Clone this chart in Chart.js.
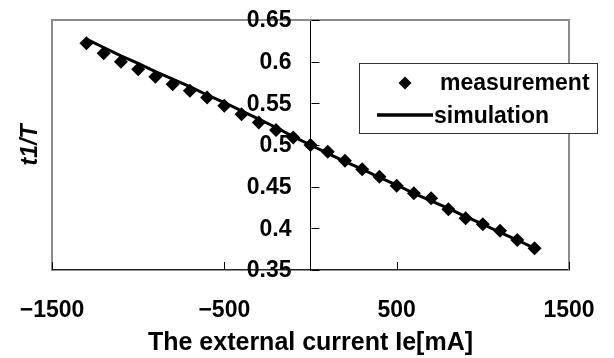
<!DOCTYPE html>
<html>
<head>
<meta charset="utf-8">
<script src="https://cdn.jsdelivr.net/npm/chart.js@4/dist/chart.umd.min.js"></script>
<style>
  body { margin: 0; background: #fff; }
  #wrap { width: 614px; height: 358px; position: relative; }
</style>
</head>
<body>
<div id="wrap"><canvas id="chart"></canvas></div>
<script>
const currents = [-1300, -1200, -1100, -1000, -900, -800, -700, -600, -500, -400, -300, -200, -100,
  0, 100, 200, 300, 400, 500, 600, 700, 800, 900, 1000, 1100, 1200, 1300];
const measured = [0.622, 0.610, 0.600, 0.591, 0.582, 0.573, 0.565, 0.557, 0.547, 0.537, 0.527, 0.518, 0.509,
  0.500, 0.492, 0.481, 0.471, 0.462, 0.451, 0.442, 0.436, 0.423, 0.412, 0.405, 0.397, 0.386, 0.376];
const simulated = [0.627, 0.617, 0.607, 0.598, 0.588, 0.579, 0.570, 0.560, 0.551, 0.541, 0.531, 0.521, 0.510,
  0.500, 0.490, 0.480, 0.471, 0.461, 0.452, 0.442, 0.433, 0.424, 0.414, 0.405, 0.395, 0.386, 0.376];
const xTickValues = [-1500, -500, 500, 1500];
const yTickValues = [0.35, 0.4, 0.45, 0.5, 0.55, 0.6, 0.65];
const seriesNames = ["measurement", "simulation"];

const FONT = "'Liberation Sans', Arial, sans-serif";

/* frame, inner tick marks, y labels next to the centred axis, legend box */
const decorations = {
  id: "decorations",
  beforeDatasetsDraw(chart) {
    const { ctx, chartArea: a } = chart;
    ctx.save();
    ctx.strokeStyle = "#8c8c8c";
    ctx.lineWidth = 2;
    ctx.beginPath();
    ctx.moveTo(a.left, a.bottom);
    ctx.lineTo(a.left, a.top);
    ctx.lineTo(a.right, a.top);
    ctx.lineTo(a.right, a.bottom);
    ctx.stroke();

    ctx.strokeStyle = "#000";
    ctx.lineWidth = 1;
    const xs = chart.scales.x, ys = chart.scales.y;
    const x0 = Math.round(xs.getPixelForValue(0)) + 0.5;
    xs.ticks.forEach(t => {
      const px = Math.round(xs.getPixelForValue(t.value)) + 0.5;
      ctx.beginPath(); ctx.moveTo(px, a.bottom); ctx.lineTo(px, a.bottom - 8); ctx.stroke();
    });
    ys.ticks.forEach(t => {
      const py = Math.round(ys.getPixelForValue(t.value)) + 0.5;
      ctx.beginPath(); ctx.moveTo(x0, py); ctx.lineTo(x0 + 8, py); ctx.stroke();
    });
    ctx.restore();
  },
  afterDraw(chart) {
    const { ctx, chartArea: a } = chart;
    const xs = chart.scales.x, ys = chart.scales.y;

    // y tick labels, left of the axis at x = 0
    ctx.save();
    ctx.font = "bold 23px " + FONT;
    ctx.fillStyle = "#000";
    ctx.textAlign = "right";
    ctx.textBaseline = "middle";
    const x0 = xs.getPixelForValue(0);
    ys.ticks.forEach(t => {
      ctx.fillText(String(Math.round(t.value * 100) / 100), x0 - 19, ys.getPixelForValue(t.value) + 1);
    });
    ctx.restore();

    const bx = a.left + 307, by = 63, bw = 238, bh = 70;
    ctx.save();
    ctx.fillStyle = "#fff";
    ctx.fillRect(bx, by, bw, bh);
    ctx.strokeStyle = "#333";
    ctx.lineWidth = 1;
    ctx.strokeRect(bx + 0.5, by + 0.5, bw, bh);

    // diamond
    const dx = bx + 46, dy = by + 20, r = 6.5;
    ctx.fillStyle = "#000";
    ctx.beginPath();
    ctx.moveTo(dx, dy - r); ctx.lineTo(dx + r, dy); ctx.lineTo(dx, dy + r); ctx.lineTo(dx - r, dy);
    ctx.closePath(); ctx.fill();

    // line
    ctx.strokeStyle = "#000";
    ctx.lineWidth = 3.5;
    ctx.beginPath(); ctx.moveTo(bx + 18, by + 52); ctx.lineTo(bx + 74, by + 52); ctx.stroke();

    ctx.font = "bold 23px " + FONT;
    ctx.textBaseline = "middle";
    ctx.textAlign = "left";
    ctx.fillText(seriesNames[0], bx + 81, dy + 1);
    ctx.fillText(seriesNames[1], bx + 75, by + 54);
    ctx.restore();
  }
};

new Chart(document.getElementById("chart"), {
  type: "scatter",
  data: {
    datasets: [
      {
        label: seriesNames[0],
        data: currents.map((x, i) => ({ x, y: measured[i] })),
        pointStyle: "rectRot",
        pointRadius: 7,
        backgroundColor: "#000",
        borderColor: "#000",
        borderWidth: 0,
        showLine: false
      },
      {
        label: seriesNames[1],
        data: currents.map((x, i) => ({ x, y: simulated[i] })),
        showLine: true,
        pointRadius: 0,
        borderColor: "#000",
        borderWidth: 3,
        tension: 0
      }
    ]
  },
  options: {
    responsive: true,
    maintainAspectRatio: false,
    animation: false,
    layout: { padding: { top: 20, right: 45, bottom: 0, left: 0 } },
    plugins: { legend: { display: false }, tooltip: { enabled: false } },
    scales: {
      x: {
        type: "linear",
        position: "bottom",
        min: -1500,
        max: 1500,
        afterBuildTicks: s => { s.ticks = xTickValues.map(v => ({ value: v })); },
        afterFit: s => { s.height = 88; },
        ticks: {
          color: "#000",
          font: { family: FONT, size: 23, weight: "bold" },
          padding: 8,
          maxRotation: 0,
          callback: v => (v < 0 ? "\u2212" + Math.abs(v) : String(v))
        },
        grid: { drawOnChartArea: false, drawTicks: true, tickLength: 19, tickColor: "rgba(0,0,0,0)" },
        border: { display: true, color: "#222", width: 1.5 },
        title: {
          display: true,
          text: "The external current Ie[mA]",
          color: "#000",
          font: { family: FONT, size: 25, weight: "bold" },
          padding: { top: 2, bottom: 0 }
        }
      },
      y: {
        type: "linear",
        position: { x: 0 },
        min: 0.35,
        max: 0.65,
        afterBuildTicks: s => { s.ticks = yTickValues.map(v => ({ value: v })); },
        ticks: { display: false },
        grid: { drawOnChartArea: false, drawTicks: false },
        border: { display: true, color: "#000", width: 1 }
      },
      yTitle: {
        type: "linear",
        position: "left",
        afterFit: s => { s.width = 52; },
        ticks: { display: false },
        grid: { display: false, drawTicks: false },
        border: { display: false },
        title: {
          display: true,
          text: "t1/T",
          color: "#000",
          font: { family: FONT, size: 23, weight: "bold", style: "italic" },
          padding: { top: 17, bottom: 7 }
        }
      }
    }
  },
  plugins: [decorations]
});
</script>
</body>
</html>
